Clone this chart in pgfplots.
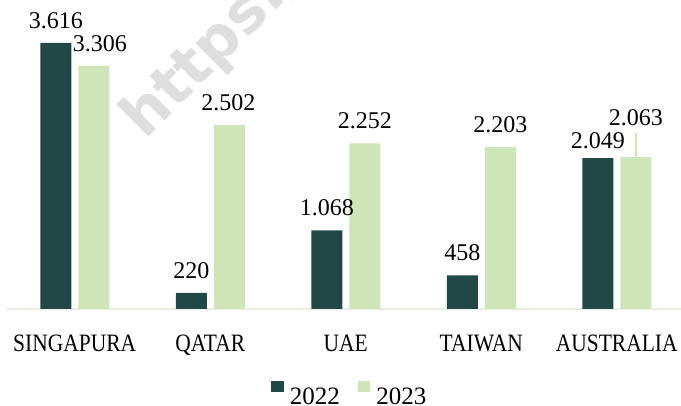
\documentclass[border=0pt]{standalone}
\usepackage{pgfplots}
\usepackage{pgfplotstable}
\pgfplotsset{compat=1.18}
\usepackage{fontspec}
\setmainfont{Liberation Serif}
\setsansfont{DejaVu Sans}
\newfontfamily\catfont[FakeStretch=0.86]{Liberation Serif}
\definecolor{darkg}{RGB}{33,72,70}
\definecolor{lightg}{RGB}{207,228,184}
\definecolor{basel}{RGB}{232,238,226}
\definecolor{wmark}{RGB}{222,222,222}

\pgfplotstableread{
x y lab dx dy
0 3616 3.616 0 14.5
1 220 220 0 14.5
2 1068 1.068 0 14.5
3 458 458 0 14.5
4 2049 2.049 0 10
}\dataA
\pgfplotstableread{
x y lab dx dy
0 3306 3.306 6 14.5
1 2502 2.502 -1 14.5
2 2252 2.252 0 14.5
3 2203 2.203 0 14.5
4 2063 2.063 0 32
}\dataB

\begin{document}
\begin{tikzpicture}
\useasboundingbox (0,0) rectangle (681pt,406pt);
\node[rotate=45, anchor=base west, text=wmark, font=\sffamily\bfseries\fontsize{60}{64}\selectfont, inner sep=0pt] at (145pt,265pt) {https://};
\begin{axis}[
  at={(7pt,97pt)}, anchor=south west,
  scale only axis, width=674pt, height=309pt,
  xmin=-0.5, xmax=4.474, ymin=0, ymax=4200,
  ybar=7pt, bar width=31pt,
  hide y axis,
  axis x line*=bottom,
  x axis line style={draw=basel, line width=1.5pt, -},
  xtick={0,1,2,3,4},
  xticklabels={SINGAPURA,QATAR,UAE,TAIWAN,AUSTRALIA},
  major tick length=0pt,
  xtick style={draw=none},
  xticklabel style={font=\catfont\fontsize{25}{28}\selectfont, anchor=base, yshift=-43pt, inner sep=0pt},
  clip=false,
  legend columns=2,
  legend style={at={(0.5074,-0.2735)}, anchor=center, draw=none, fill=none, inner sep=0pt,
    font=\fontsize{25}{28}\selectfont,
    nodes={inner sep=0pt},
    /tikz/column 1/.style={column sep=6pt},
    /tikz/column 2/.style={column sep=18pt},
    /tikz/column 3/.style={column sep=6pt}},
]
\addplot[fill=darkg, draw=none,
  legend image code/.code={\fill[darkg] (0pt,5pt) rectangle (12.5pt,16.5pt);},
  point meta=explicit symbolic,
  nodes near coords,
  visualization depends on={\thisrow{dx}\as\dx},
  visualization depends on={\thisrow{dy}\as\dy},
  nodes near coords style={anchor=base, xshift=\dx pt, yshift=\dy pt, inner sep=0pt, font=\fontsize{24}{28}\selectfont, text=black},
] table[x=x, y=y, meta=lab] {\dataA};
\addlegendentry{2022}
\addplot[fill=lightg, draw=none,
  legend image code/.code={\fill[lightg] (0pt,5pt) rectangle (12.5pt,16.5pt);},
  point meta=explicit symbolic,
  nodes near coords,
  visualization depends on={\thisrow{dx}\as\dx},
  visualization depends on={\thisrow{dy}\as\dy},
  nodes near coords style={anchor=base, xshift=\dx pt, yshift=\dy pt, inner sep=0pt, font=\fontsize{24}{28}\selectfont, text=black},
] table[x=x, y=y, meta=lab] {\dataB};
\addlegendentry{2023}
\addplot[sharp plot, no marks, draw=lightg, line width=1.5pt, forget plot] coordinates {(4.1402,2063) (4.1402,2392)};
\end{axis}
\end{tikzpicture}
\end{document}
